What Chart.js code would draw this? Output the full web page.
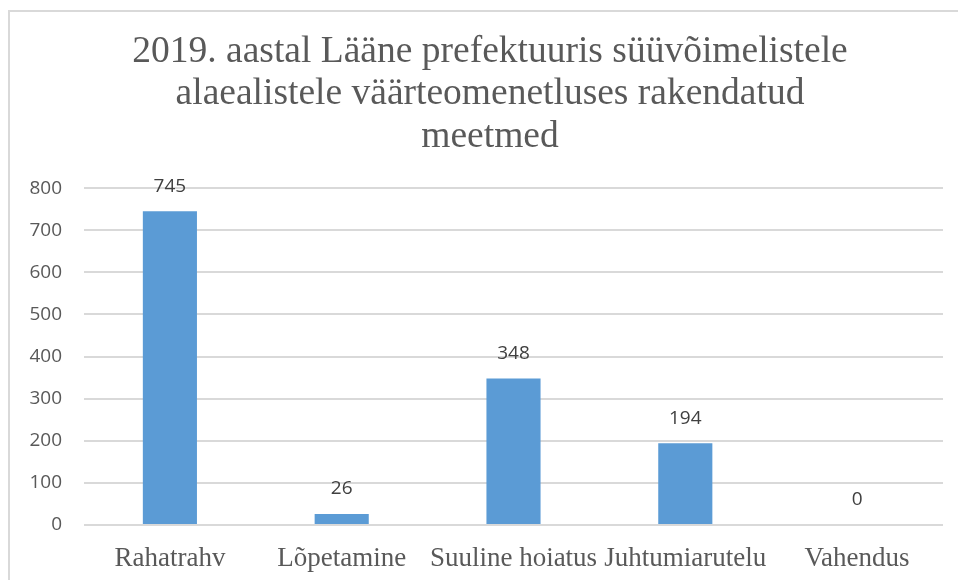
<!DOCTYPE html>
<html>
<head>
<meta charset="UTF-8">
<title>Meetmed 2019</title>
<script src="https://cdn.jsdelivr.net/npm/chart.js@4.4.1/dist/chart.umd.min.js"></script>
<style>
  body { margin: 0; background: #fff; }
  #wrap { position: relative; width: 958px; height: 580px; }
</style>
</head>
<body>
<div id="wrap"><canvas id="myChart" width="958" height="580"></canvas></div>

<script>
  // andmed
  const categories = ["Rahatrahv", "Lõpetamine", "Suuline hoiatus", "Juhtumiarutelu", "Vahendus"];
  const values = [745, 26, 348, 194, 0];
  const titleLines = [
    "2019. aastal Lääne prefektuuris süüvõimelistele",
    "alaealistele väärteomenetluses rakendatud",
    "meetmed"
  ];

  // raam ümber diagrammi + pealkiri veidi paremale (nagu originaalis)
  const frame = {
    id: "frame",
    afterLayout(chart) {
      if (chart.titleBlock) {
        chart.titleBlock.left = 22;
        chart.titleBlock.right = chart.width;
      }
    },
    beforeDraw(chart) {
      const c = chart.ctx;
      c.save();
      c.fillStyle = "#fff";
      c.fillRect(0, 0, chart.width, chart.height);
      c.strokeStyle = "#d9d9d9";
      c.lineWidth = 2;
      c.strokeRect(9, 11, chart.width, chart.height);
      c.restore();
    }
  };

  // väärtused tulpade kohal
  const barLabels = {
    id: "barLabels",
    afterDatasetsDraw(chart) {
      const c = chart.ctx;
      c.save();
      c.font = "19px 'Open Sans'";
      c.fillStyle = "#404040";
      c.textAlign = "center";
      c.textBaseline = "middle";
      chart.getDatasetMeta(0).data.forEach(function(bar, i) {
        c.fillText(String(values[i]), bar.x, bar.y - 25);
      });
      c.restore();
    }
  };

  new Chart("myChart", {
    type: "bar",
    data: {
      labels: categories,
      datasets: [{
        data: values,
        backgroundColor: "#5b9bd5",
        borderWidth: 0,
        categoryPercentage: 1,
        barPercentage: 0.315
      }]
    },
    options: {
      responsive: false,
      animation: false,
      layout: { padding: { top: 31, right: 15, bottom: 0, left: 0 } },
      plugins: {
        legend: { display: false },
        tooltip: { enabled: false },
        title: {
          display: true,
          text: titleLines,
          color: "#595959",
          font: { family: "'Liberation Serif'", size: 37.5, weight: "normal", lineHeight: 1.13 },
          padding: { top: 0, bottom: 30 }
        }
      },
      scales: {
        x: {
          grid: { display: false },
          border: { display: false },
          ticks: {
            color: "#595959",
            font: { family: "'Liberation Serif'", size: 27 },
            padding: 10,
            maxRotation: 0,
            autoSkip: false
          },
          afterFit(scale) { scale.height = 55; }
        },
        y: {
          min: 0,
          max: 800,
          ticks: {
            stepSize: 100,
            color: "#595959",
            font: { family: "'Open Sans'", size: 19 },
            padding: 22
          },
          grid: { color: "#d9d9d9", lineWidth: 2, drawTicks: false },
          border: { display: false },
          afterFit(scale) { scale.width = 84; }
        }
      }
    },
    plugins: [frame, barLabels]
  });
</script>
</body>
</html>
